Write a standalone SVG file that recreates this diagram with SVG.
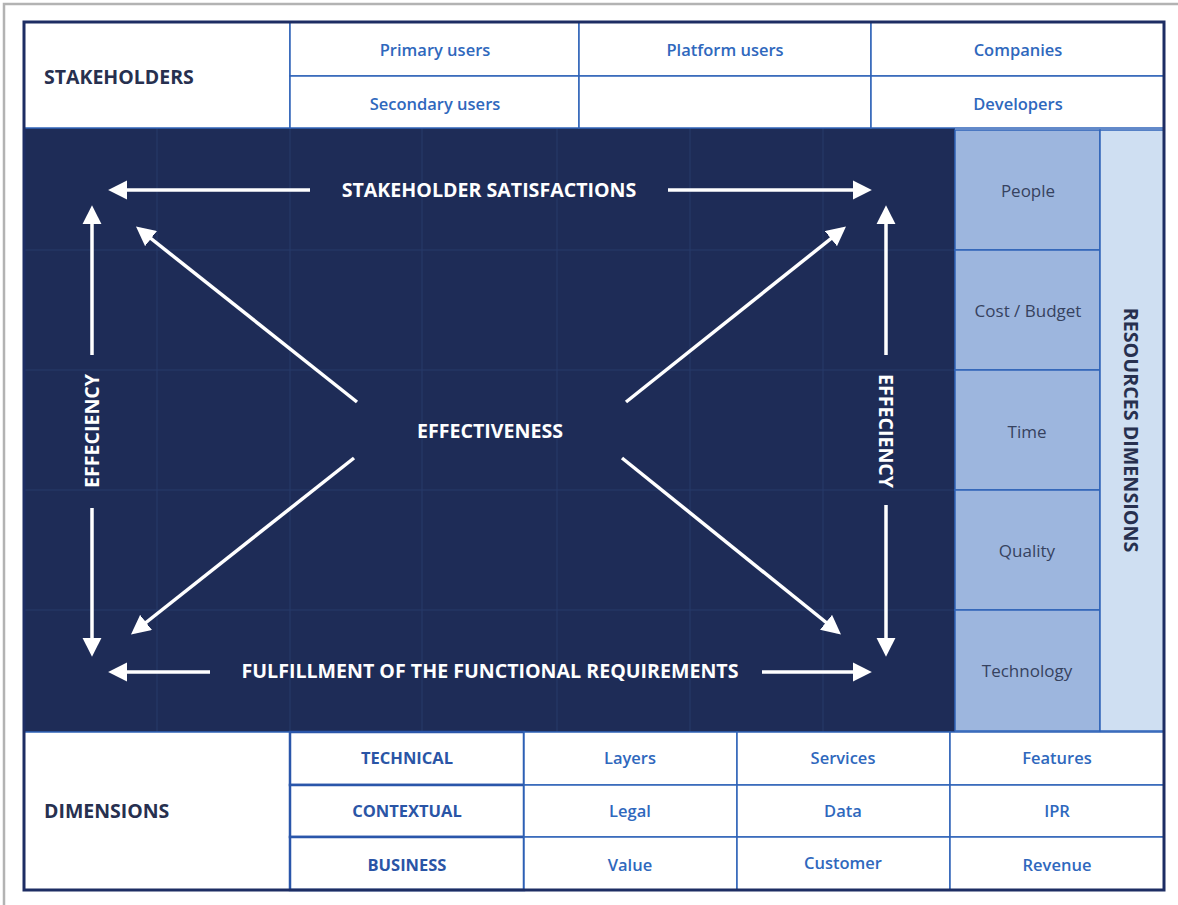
<svg xmlns="http://www.w3.org/2000/svg" width="1178" height="905" viewBox="0 0 1178 905">
<defs>
<style>
.frame{fill:none;stroke:#1d2d63;stroke-width:3}
.cell{fill:#ffffff;stroke:#2f63b8;stroke-width:1.5}
.cellb{fill:#ffffff;stroke:#2a56aa;stroke-width:2.5}
.res{fill:#9db6de;stroke:#2f63b8;stroke-width:1.5}
.grid{stroke:#263b6a;stroke-width:1;fill:none}
.arr{stroke:#ffffff;stroke-width:3.5;fill:none;marker-end:url(#ah)}
.hd{font-family:"Open Sans","Liberation Sans",sans-serif;font-weight:700;font-size:19.5px;fill:#27304f}
.cl{font-family:"Open Sans","Liberation Sans",sans-serif;font-weight:600;font-size:16.5px;fill:#2f68bd;text-anchor:middle}
.cb{font-family:"Open Sans","Liberation Sans",sans-serif;font-weight:700;font-size:16.5px;fill:#2a55a6;text-anchor:middle}
.rl{font-family:"Open Sans","Liberation Sans",sans-serif;font-weight:500;font-size:17px;fill:#36425f;text-anchor:middle}
.wt{font-family:"Open Sans","Liberation Sans",sans-serif;font-weight:700;font-size:19.6px;fill:#ffffff;text-anchor:middle}
</style>
<marker id="ah" viewBox="0 0 10 10" refX="8" refY="5" markerWidth="5.5" markerHeight="5.5" orient="auto" markerUnits="strokeWidth">
<path d="M0,0 L10,5 L0,10 Z" fill="#ffffff"/>
</marker>
</defs>
<rect width="1178" height="905" fill="#ffffff"/>
<path d="M4,905 V4 H1178" fill="none" stroke="#b3b3b3" stroke-width="2.5"/>

<g id="panel">
<rect x="24" y="128" width="931" height="604" fill="#1e2c57"/>
<path class="grid" d="M157,128V732M290,128V732M422,128V732M557,128V732M690,128V732M823,128V732M24,250H955M24,370H955M24,490H955M24,610H955"/>
</g>

<g id="stakeholders">
<rect class="cell" x="24" y="22" width="266" height="106"/>
<text class="hd" x="44" y="84">STAKEHOLDERS</text>
<rect class="cell" x="290" y="22" width="289" height="54"/>
<text class="cl" x="435" y="56">Primary users</text>
<rect class="cell" x="579" y="22" width="292" height="54"/>
<text class="cl" x="725" y="56">Platform users</text>
<rect class="cell" x="871" y="22" width="293" height="54"/>
<text class="cl" x="1018" y="56">Companies</text>
<rect class="cell" x="290" y="76" width="289" height="52"/>
<text class="cl" x="435" y="110">Secondary users</text>
<rect class="cell" x="579" y="76" width="292" height="52"/>
<rect class="cell" x="871" y="76" width="293" height="52"/>
<text class="cl" x="1018" y="110">Developers</text>
</g>

<g id="resources">
<rect class="res" x="955" y="130" width="145" height="120"/>
<text class="rl" x="1028" y="197">People</text>
<rect class="res" x="955" y="250" width="145" height="120"/>
<text class="rl" x="1028" y="317">Cost / Budget</text>
<rect class="res" x="955" y="370" width="145" height="120"/>
<text class="rl" x="1027" y="438">Time</text>
<rect class="res" x="955" y="490" width="145" height="120"/>
<text class="rl" x="1027" y="557">Quality</text>
<rect class="res" x="955" y="610" width="145" height="121"/>
<text class="rl" x="1027" y="677">Technology</text>
<rect x="1100" y="130" width="64" height="601" fill="#cfdff2" stroke="#2f63b8" stroke-width="1.5"/>
<text class="hd" transform="translate(1124,430) rotate(90)" text-anchor="middle" style="font-size:19.7px">RESOURCES DIMENSIONS</text>
</g>

<g id="dimensions">
<rect class="cell" x="24" y="732" width="266" height="158"/>
<text class="hd" x="44" y="818">DIMENSIONS</text>
<rect class="cellb" x="290" y="732" width="234" height="53"/>
<text class="cb" x="407" y="764">TECHNICAL</text>
<rect class="cellb" x="290" y="785" width="234" height="52"/>
<text class="cb" x="407" y="817">CONTEXTUAL</text>
<rect class="cellb" x="290" y="837" width="234" height="53"/>
<text class="cb" x="407" y="871">BUSINESS</text>
<rect class="cell" x="524" y="732" width="213" height="53"/>
<text class="cl" x="630" y="764">Layers</text>
<rect class="cell" x="737" y="732" width="213" height="53"/>
<text class="cl" x="843" y="764">Services</text>
<rect class="cell" x="950" y="732" width="214" height="53"/>
<text class="cl" x="1057" y="764">Features</text>
<rect class="cell" x="524" y="785" width="213" height="52"/>
<text class="cl" x="630" y="817">Legal</text>
<rect class="cell" x="737" y="785" width="213" height="52"/>
<text class="cl" x="843" y="817">Data</text>
<rect class="cell" x="950" y="785" width="214" height="52"/>
<text class="cl" x="1057" y="817">IPR</text>
<rect class="cell" x="524" y="837" width="213" height="53"/>
<text class="cl" x="630" y="871">Value</text>
<rect class="cell" x="737" y="837" width="213" height="53"/>
<text class="cl" x="843" y="869">Customer</text>
<rect class="cell" x="950" y="837" width="214" height="53"/>
<text class="cl" x="1057" y="871">Revenue</text>
</g>

<rect class="frame" x="24" y="22" width="1140" height="868"/>

<g id="labels">
<text class="wt" x="489" y="197">STAKEHOLDER SATISFACTIONS</text>
<text class="wt" x="490" y="438">EFFECTIVENESS</text>
<text class="wt" x="490" y="678">FULFILLMENT OF THE FUNCTIONAL REQUIREMENTS</text>
<text class="wt" transform="translate(99,431) rotate(-90)">EFFECIENCY</text>
<text class="wt" transform="translate(879,431) rotate(90)">EFFECIENCY</text>
</g>

<g id="connectors">
<path class="arr" d="M310,190 H112"/>
<path class="arr" d="M668,190 H868"/>
<path class="arr" d="M210,672 H112"/>
<path class="arr" d="M762,672 H868"/>
<path class="arr" d="M92,355 V209"/>
<path class="arr" d="M92,508 V653"/>
<path class="arr" d="M886,355 V209"/>
<path class="arr" d="M886,505 V653"/>
<path class="arr" d="M357,402 L139,229"/>
<path class="arr" d="M626,402 L843,229"/>
<path class="arr" d="M354,458 L134,632"/>
<path class="arr" d="M622,458 L838,632"/>
</g>
</svg>
